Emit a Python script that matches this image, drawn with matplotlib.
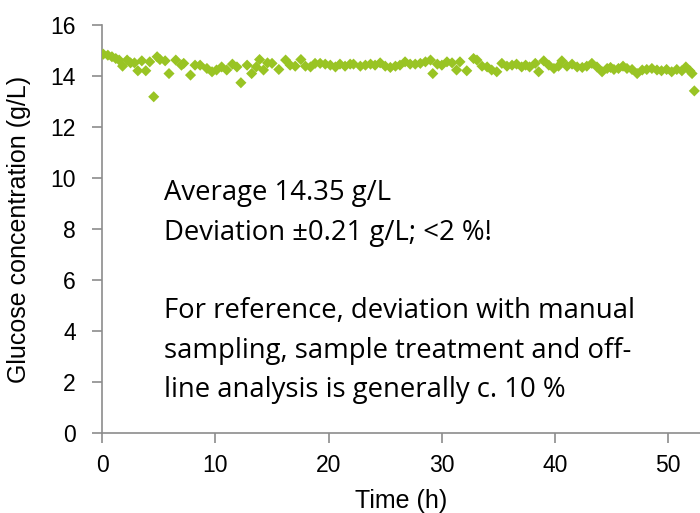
import numpy as np
import matplotlib.pyplot as plt

# glucose readings (time in h, concentration in g/L)
time_h = [0.1, 0.5, 0.86, 1.2, 1.5, 1.8, 2.2, 2.5, 2.85, 3.15, 3.5, 3.85, 4.2, 4.55, 4.85,
          5.1, 5.56, 5.9, 6.5, 7.0, 7.2, 7.8, 8.2, 8.65, 9.25, 9.7, 10.1, 10.55, 11.0, 11.5,
          11.9, 12.25, 12.8, 13.2, 13.6, 13.9, 14.25, 14.6, 15.0, 15.6, 16.2, 16.6, 17.05, 17.55,
          17.95, 18.4, 18.8, 19.25, 19.7, 20.15, 20.6, 21.0, 21.45, 21.9, 22.2, 22.8, 23.25, 23.7,
          24.1, 24.55, 25.0, 25.45, 25.9, 26.3, 26.75, 27.2, 27.65, 28.1, 28.55, 29.0, 29.2, 29.6,
          30.0, 30.45, 30.9, 31.3, 31.6, 32.2, 32.8, 33.1, 33.55, 34.0, 34.4, 34.85, 35.3, 35.75,
          36.2, 36.6, 37.05, 37.4, 37.75, 38.25, 38.55, 39.0, 39.45, 39.9, 40.3, 40.6, 41.05, 41.5,
          41.95, 42.4, 42.8, 43.25, 43.7, 44.15, 44.6, 44.9, 45.2, 45.6, 46.0, 46.35, 46.8, 47.25,
          47.7, 48.1, 48.55, 49.0, 49.4, 49.85, 50.3, 50.75, 51.2, 51.55, 51.9, 52.1, 52.3]
glucose = [14.86, 14.82, 14.76, 14.69, 14.63, 14.39, 14.63, 14.52, 14.52, 14.21, 14.60, 14.21, 14.56, 13.19, 14.76,
           14.65, 14.60, 14.10, 14.63, 14.43, 14.50, 14.04, 14.43, 14.43, 14.30, 14.17, 14.24, 14.36, 14.24, 14.47,
           14.36, 13.74, 14.43, 14.10, 14.36, 14.65, 14.24, 14.52, 14.50, 14.26, 14.63, 14.43, 14.39, 14.65,
           14.39, 14.36, 14.50, 14.50, 14.47, 14.43, 14.36, 14.47, 14.39, 14.47, 14.47, 14.39, 14.43, 14.47,
           14.43, 14.52, 14.39, 14.34, 14.39, 14.43, 14.56, 14.47, 14.47, 14.50, 14.56, 14.63, 14.10, 14.47,
           14.43, 14.56, 14.52, 14.24, 14.56, 14.21, 14.69, 14.63, 14.39, 14.36, 14.24, 14.17, 14.50, 14.39,
           14.43, 14.47, 14.36, 14.43, 14.36, 14.50, 14.17, 14.60, 14.43, 14.30, 14.39, 14.60, 14.39, 14.47,
           14.36, 14.34, 14.39, 14.50, 14.36, 14.17, 14.30, 14.34, 14.26, 14.30, 14.39, 14.30, 14.26, 14.10,
           14.24, 14.26, 14.30, 14.24, 14.21, 14.26, 14.17, 14.26, 14.21, 14.36, 14.21, 14.10, 13.42]

note = ('Average 14.35 g/L\n'
        'Deviation \u00b10.21 g/L; <2 %!\n'
        '\n'
        'For reference, deviation with manual\n'
        'sampling, sample treatment and off-\n'
        'line analysis is generally c. 10 %')

tick_font = ['Liberation Sans', 'DejaVu Sans']

fig = plt.figure(figsize=(7, 5.13), dpi=100)
ax = fig.add_axes([0.146, 0.156, 0.854, 0.795])

ax.scatter(time_h, glucose, marker='D', s=32, color='#99c424', edgecolors='none', zorder=3)

ax.set_xlim(0, 52.8)
ax.set_ylim(0, 16)
ax.set_xticks(range(0, 51, 10))
ax.set_yticks(range(0, 17, 2))

for s in ['top', 'right']:
    ax.spines[s].set_visible(False)
for s in ['left', 'bottom']:
    ax.spines[s].set_color('#8c8c8c')
    ax.spines[s].set_linewidth(1.2)
ax.tick_params(direction='out', length=7, width=1.2, color='#8c8c8c', labelsize=16.5)
ax.tick_params(axis='x', pad=8)
ax.tick_params(axis='y', pad=12)
for lab in ax.get_xticklabels() + ax.get_yticklabels():
    lab.set_family(tick_font)

ax.set_xlabel('Time (h)', fontsize=18, family=tick_font, labelpad=9)
ax.set_ylabel('Glucose concentration (g/L)', fontsize=18, family=tick_font, labelpad=14)

ax.text(5.5, 9.95, note, fontsize=19.8, family='Open Sans', va='top', ha='left', linespacing=1.54)

fig.savefig('out.png', dpi=100)
